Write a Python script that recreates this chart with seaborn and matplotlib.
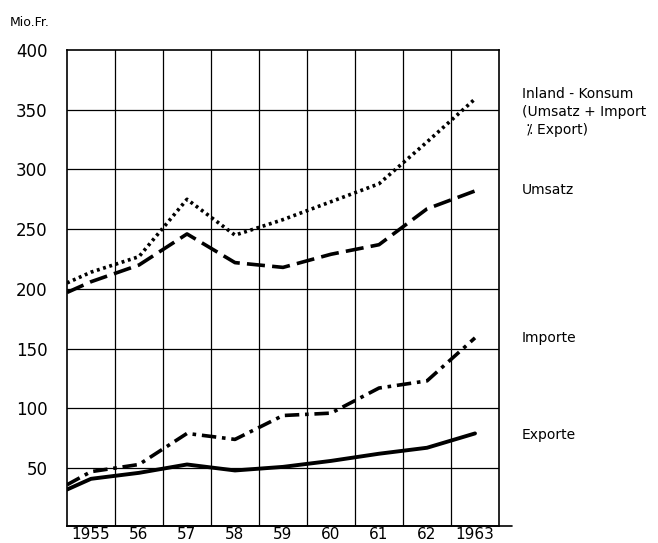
import matplotlib
matplotlib.use("Agg")
import matplotlib.pyplot as plt
import seaborn as sns
import numpy as np

years = [1954.5, 1955, 1956, 1957, 1958, 1959, 1960, 1961, 1962, 1963]
inland = [205, 214, 227, 275, 245, 258, 273, 288, 323, 359]
umsatz = [197, 206, 220, 246, 222, 218, 229, 237, 267, 282]
importe = [36, 47, 53, 79, 74, 94, 96, 117, 123, 159]
exporte = [32, 41, 46, 53, 48, 51, 56, 62, 67, 79]

tick_years = [1955, 1956, 1957, 1958, 1959, 1960, 1961, 1962, 1963]
tick_labels = ["1955", "56", "57", "58", "59", "60", "61", "62", "1963"]
y_ticks = [50, 100, 150, 200, 250, 300, 350, 400]
series_labels = ["Inland - Konsum\n(Umsatz + Import\n ⁒ Export)", "Umsatz", "Importe", "Exporte"]

sns.set_style("white")
plt.rcParams['font.family'] = ['DejaVu Sans']
plt.rcParams['text.color'] = 'black'
plt.rcParams['xtick.color'] = 'black'
plt.rcParams['ytick.color'] = 'black'

fig = plt.figure(figsize=(6.58, 5.43), dpi=100)
ax = fig.add_axes([67/658, 1 - 526/543, (499-67)/658, (526-50)/543])

ax.set_xlim(1954.5, 1963.5)
ax.set_ylim(1.5, 400)

# grid
for gx in np.arange(1955.5, 1963.5, 1.0):
    ax.axvline(gx, color='black', lw=0.9, zorder=1)
for gy in y_ticks[:-1]:
    ax.axhline(gy, color='black', lw=0.9, zorder=1)

styles = [
    dict(linestyle=(0, (0.8, 1.0)), lw=2.6),
    dict(linestyle=(0, (5.0, 2.0)), lw=2.6),
    dict(linestyle=(0, (4.0, 1.6, 1.0, 1.6)), lw=2.6),
    dict(linestyle='-', lw=2.8),
]
for vals, st in zip([inland, umsatz, importe, exporte], styles):
    sns.lineplot(x=years, y=vals, ax=ax, color='black', zorder=3, **st)

for sp in ax.spines.values():
    sp.set_color('black')
    sp.set_linewidth(1.2)
# extended baseline
ax.plot([0, 1.03], [0, 0], transform=ax.transAxes, color='black', lw=1.2, clip_on=False)

ax.set_xticks(tick_years)
ax.set_xticklabels(tick_labels, fontsize=11)
ax.set_yticks(y_ticks)
ax.set_yticklabels([str(v) for v in y_ticks], fontsize=12)
ax.tick_params(axis='both', length=0)
ax.tick_params(axis='x', pad=1)
ax.tick_params(axis='y', pad=14)

fig.text(10/658, 1 - 22/543, "Mio.Fr.", fontsize=9, va='center', ha='left')

label_pos = [(522, 112), (522, 190), (522, 338), (522, 435)]
for (px, py), lab in zip(label_pos, series_labels):
    fig.text(px/658, 1 - py/543, lab, fontsize=10, va='center', ha='left', linespacing=1.35)

fig.savefig("out.png", dpi=100)
